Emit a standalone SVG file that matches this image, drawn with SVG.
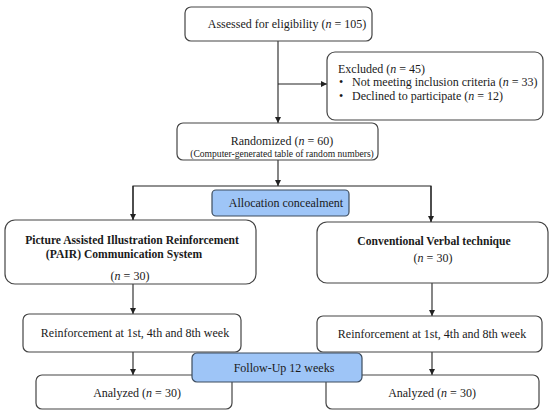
<svg xmlns="http://www.w3.org/2000/svg" width="550" height="416" viewBox="0 0 550 416">
<defs>
<marker id="ah" viewBox="0 0 10 10" refX="10" refY="5" markerWidth="6" markerHeight="6" markerUnits="userSpaceOnUse" orient="auto">
<path d="M0,0 L10,5 L0,10 z" fill="#222"/>
</marker>
<style>
.box{fill:#fff;stroke:#444;stroke-width:1.2}
.blue{fill:#9ec5f7;stroke:#3d4c5e;stroke-width:1.2}
.t{font-family:"Liberation Serif","Times New Roman",serif;font-size:12px;fill:#1a1a1a}
.s{font-size:9.6px}
.b{font-weight:bold;font-size:11.6px}
.c{text-anchor:middle}
.ln{fill:none;stroke:#222;stroke-width:1.1}
</style>
</defs>
<rect width="550" height="416" fill="#fff"/>
<g id="connectors">
<line class="ln" x1="278" y1="41" x2="278" y2="123" marker-end="url(#ah)"/>
<line class="ln" x1="278" y1="84" x2="327" y2="84" marker-end="url(#ah)"/>
<line class="ln" x1="278" y1="160" x2="278" y2="186" marker-end="url(#ah)"/>
<polyline class="ln" points="133,220 133,186 431,186 431,222"/>
<line class="ln" x1="133" y1="186" x2="133" y2="220" marker-end="url(#ah)"/>
<line class="ln" x1="431" y1="186" x2="431" y2="222" marker-end="url(#ah)"/>
<line class="ln" x1="133" y1="284" x2="133" y2="314" marker-end="url(#ah)"/>
<line class="ln" x1="432" y1="283" x2="432" y2="316" marker-end="url(#ah)"/>
<line class="ln" x1="133" y1="352" x2="133" y2="375" marker-end="url(#ah)"/>
<line class="ln" x1="432" y1="352" x2="432" y2="375" marker-end="url(#ah)"/>
</g>
<g id="assessed">
<rect class="box" x="185" y="7" width="187" height="34" rx="6"/>
<text class="t c" x="287" y="28">Assessed for eligibility (<tspan font-style="italic">n</tspan> = 105)</text>
</g>
<g id="excluded">
<rect class="box" x="327" y="52" width="216" height="68" rx="8"/>
<text class="t" x="338" y="73">Excluded (<tspan font-style="italic">n</tspan> = 45)</text>
<text class="t" x="339" y="86">•</text>
<text class="t" x="352" y="86">Not meeting inclusion criteria (<tspan font-style="italic">n</tspan> = 33)</text>
<text class="t" x="339" y="100">•</text>
<text class="t" x="352" y="100">Declined to participate (<tspan font-style="italic">n</tspan> = 12)</text>
</g>
<g id="randomized">
<rect class="box" x="177" y="123" width="201" height="37" rx="6"/>
<text class="t c" x="282" y="145">Randomized (<tspan font-style="italic">n</tspan> = 60)</text>
<text class="t s c" x="282" y="157">(Computer-generated table of random numbers)</text>
</g>
<g id="allocation">
<rect class="blue" x="212" y="190" width="137" height="26" rx="4"/>
<text class="t c" x="286" y="207">Allocation concealment</text>
</g>
<g id="pair">
<rect class="box" x="5" y="220" width="251" height="64" rx="10"/>
<text class="t b c" x="132" y="244">Picture Assisted Illustration Reinforcement</text>
<text class="t b c" x="124" y="258">(PAIR) Communication System</text>
<text class="t c" x="130" y="280">(<tspan font-style="italic">n</tspan> = 30)</text>
</g>
<g id="conventional">
<rect class="box" x="317" y="222" width="231" height="61" rx="10"/>
<text class="t b c" x="434" y="245">Conventional Verbal technique</text>
<text class="t c" x="433" y="262">(<tspan font-style="italic">n</tspan> = 30)</text>
</g>
<g id="reinf-left">
<rect class="box" x="23" y="314" width="218" height="38" rx="6"/>
<text class="t c" x="135" y="337">Reinforcement at 1st, 4th and 8th week</text>
</g>
<g id="reinf-right">
<rect class="box" x="317" y="316" width="225" height="36" rx="6"/>
<text class="t c" x="432" y="338">Reinforcement at 1st, 4th and 8th week</text>
</g>
<g id="analyzed-left">
<rect class="box" x="36" y="375" width="196" height="34" rx="6"/>
<text class="t c" x="137" y="397">Analyzed (<tspan font-style="italic">n</tspan> = 30)</text>
</g>
<g id="analyzed-right">
<rect class="box" x="326" y="375" width="213" height="34" rx="6"/>
<text class="t c" x="432" y="397">Analyzed (<tspan font-style="italic">n</tspan> = 30)</text>
</g>
<g id="followup">
<rect class="blue" x="192" y="353" width="170" height="29" rx="5"/>
<text class="t c" x="284" y="372">Follow-Up 12 weeks</text>
</g>
</svg>
